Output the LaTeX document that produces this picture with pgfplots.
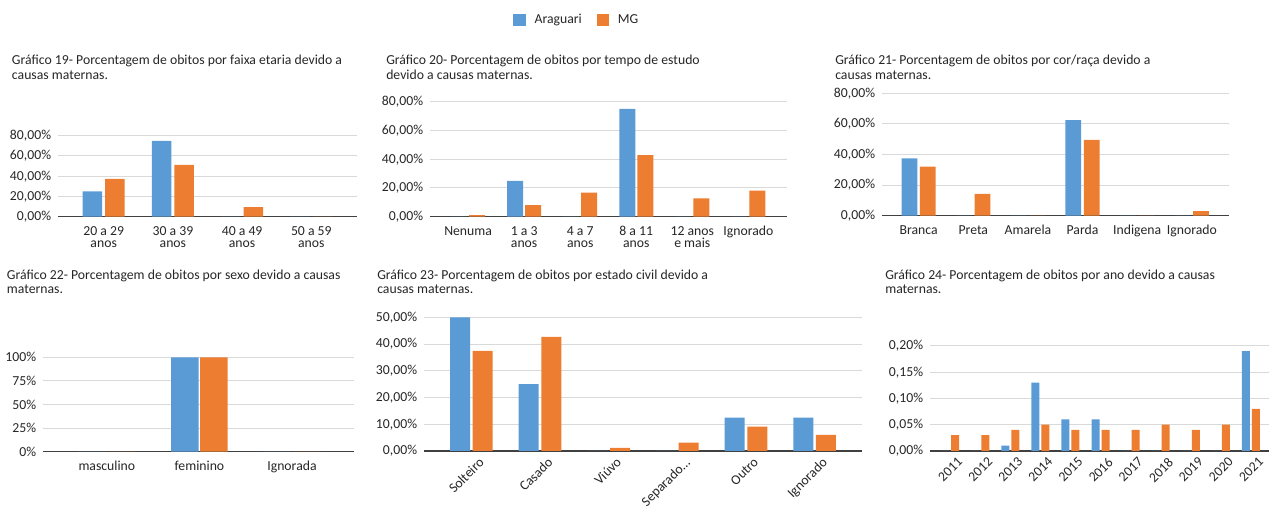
\documentclass[border=0pt]{standalone}
\usepackage{fontspec}
\setmainfont{Carlito}
\usepackage{pgfplots}
\pgfplotsset{compat=1.18}

\definecolor{cA}{HTML}{5B9BD5}
\definecolor{cM}{HTML}{ED7D31}
\definecolor{gridc}{HTML}{D9D9D9}
\definecolor{txt}{HTML}{262626}
\newcommand\tkf{\fontsize{10.3}{9.6}\selectfont}
\newcommand\ttf{\fontsize{10.3}{11}\selectfont}
% fixed first-line height so all category labels share one baseline
\newcommand\fl{\rule{0pt}{7pt}}

\pgfplotsset{
  panel/.style={
    scale only axis, anchor=south west, ybar, ymin=0, clip=false,
    axis x line*=bottom, axis y line*=left,
    y axis line style={draw=none},
    x axis line style={-, draw=black!75, line width=0.9pt},
    ymajorgrids, grid style={draw=gridc, line width=0.75pt},
    major tick length=0pt, tick style={draw=none},
    yticklabel style={font=\tkf, text=txt, inner sep=0pt, xshift=-5pt},
    xticklabel style={font=\tkf, text=txt, inner sep=0pt, align=center},
  },
  flatx/.style={xticklabel style={yshift=-6.6pt}},
  rotx/.style={xticklabel style={xshift=5pt, yshift=-4pt, rotate=45, anchor=north east}},
  a/.style={fill=cA, draw=none},
  m/.style={fill=cM, draw=none},
  sq/.style={legend image code/.code={\fill[##1] (0pt,-4.5pt) rectangle (9.5pt,4.5pt); \path (14pt,0pt);}},
  pct/.style={yticklabels={{0,00\%},{20,00\%},{40,00\%},{60,00\%},{80,00\%}}, ytick={0,20,40,60,80}, ymax=80},
}

\newcommand\ttl[4]{%
  \node[anchor=base west, inner sep=0pt, font=\ttf, text=txt] at (#1,#2) {#3};
  \node[anchor=base west, inner sep=0pt, font=\ttf, text=txt] at (#1,{#2-10.7pt}) {#4};}

\begin{document}
\begin{tikzpicture}
\useasboundingbox (0,0) rectangle (951.75pt,381.75pt);

% titles
\ttl{8.8pt}{333pt}{Gráfico 19- Porcentagem de obitos por faixa etaria devido a}{causas maternas.}
\ttl{289.5pt}{333pt}{Gráfico 20- Porcentagem de obitos por tempo de estudo}{devido a causas maternas.}
\ttl{626.25pt}{333pt}{Gráfico 21- Porcentagem de obitos por cor/raça devido a}{causas maternas.}
\ttl{5pt}{172.3pt}{Gráfico 22- Porcentagem de obitos por sexo devido a causas}{maternas.}
\ttl{282.75pt}{172.3pt}{Gráfico 23- Porcentagem de obitos por estado civil devido a}{causas maternas.}
\ttl{663.75pt}{172.3pt}{Gráfico 24- Porcentagem de obitos por ano devido a causas}{maternas.}

% 19: faixa etaria
\begin{axis}[panel, flatx, pct, at={(43.5pt,219.2pt)}, width=224.25pt, height=60.75pt,
  xmin=-0.66, xmax=3.66, xtick={0,1,2,3},
  xticklabels={{\fl 20 a 29\\anos},{\fl 30 a 39\\anos},{\fl 40 a 49\\anos},{\fl 50 a 59\\anos}},
  bar width=14.6pt]
\addplot[a, bar shift=-8.4pt] coordinates {(0,25) (1,75) (2,0) (3,0)};
\addplot[m, bar shift=8.4pt] coordinates {(0,37.5) (1,51.3) (2,9.6) (3,0)};
\end{axis}

% 20: tempo de estudo (carries the legend)
\begin{axis}[panel, flatx, pct, at={(322.5pt,219.2pt)}, width=267.75pt, height=86.25pt,
  xmin=-0.68, xmax=5.69, xtick={0,1,2,3,4,5},
  xticklabels={{\fl Nenuma},{\fl 1 a 3\\anos},{\fl 4 a 7\\anos},{\fl 8 a 11\\anos},{\fl 12 anos\\e mais},{\fl Ignorado}},
  bar width=12pt, legend columns=2,
  legend style={at={(0.412,1.71)}, anchor=center, draw=none, fill=none, font=\tkf, text=txt,
    /tikz/every even column/.append style={column sep=9pt}}]
\addplot[a, sq, bar shift=-6.75pt] coordinates {(0,0) (1,25) (2,0) (3,75) (4,0) (5,0)};
\addplot[m, sq, bar shift=6.75pt] coordinates {(0,1.1) (1,8.1) (2,16.7) (3,42.9) (4,12.8) (5,18.1)};
\legend{Araguari,MG}
\end{axis}

% 21: cor/raca
\begin{axis}[panel, flatx, pct, at={(661.5pt,220pt)}, width=260.25pt, height=91.8pt,
  xmin=-0.67, xmax=5.68, xtick={0,1,2,3,4,5},
  xticklabels={{\fl Branca},{\fl Preta},{\fl Amarela},{\fl Parda},{\fl Indigena},{\fl Ignorado}},
  bar width=11.8pt]
\addplot[a, bar shift=-6.9pt] coordinates {(0,37.5) (1,0) (2,0) (3,62.5) (4,0) (5,0)};
\addplot[m, bar shift=6.9pt] coordinates {(0,32) (1,14.2) (2,0) (3,49.5) (4,0) (5,3)};
\end{axis}

% 22: sexo
\begin{axis}[panel, flatx, at={(32.25pt,43pt)}, width=233.25pt, height=70.8pt,
  xmin=-0.69, xmax=2.67, xtick={0,1,2}, xticklabels={{\fl masculino},{\fl feminino},{\fl Ignorada}},
  ymax=100, ytick={0,25,50,75,100}, yticklabels={0\%,25\%,50\%,75\%,100\%},
  bar width=20.6pt]
\addplot[a, bar shift=-10.9pt] coordinates {(0,0) (1,100) (2,0)};
\addplot[m, bar shift=10.9pt] coordinates {(0,0) (1,100) (2,0)};
\end{axis}

% 23: estado civil
\begin{axis}[panel, rotx, at={(318pt,43.5pt)}, width=328.5pt, height=100.3pt,
  xmin=-0.69, xmax=5.69, xtick={0,1,2,3,4,5},
  xticklabels={Solteiro,Casado,Viúvo,{Separado\ldots},Outro,Ignorado},
  ymax=50, ytick={0,10,20,30,40,50},
  yticklabels={{0,00\%},{10,00\%},{20,00\%},{30,00\%},{40,00\%},{50,00\%}},
  bar width=15pt]
\addplot[a, bar shift=-8.5pt] coordinates {(0,50) (1,25) (2,0) (3,0) (4,12.5) (5,12.5)};
\addplot[m, bar shift=8.5pt] coordinates {(0,37.4) (1,42.7) (2,1.2) (3,3.1) (4,9.1) (5,6)};
\end{axis}

% 24: ano
\begin{axis}[panel, rotx, at={(697.5pt,43.5pt)}, width=254.25pt, height=78.75pt,
  xmin=-0.67, xmax=10.6, xtick={0,1,2,3,4,5,6,7,8,9,10},
  xticklabels={2011,2012,2013,2014,2015,2016,2017,2018,2019,2020,2021},
  ymax=0.2, ytick={0,0.05,0.1,0.15,0.2},
  yticklabels={{0,00\%},{0,05\%},{0,10\%},{0,15\%},{0,20\%}},
  bar width=6pt]
\addplot[a, bar shift=-3.75pt] coordinates {(0,0) (1,0) (2,0.01) (3,0.13) (4,0.06) (5,0.06) (6,0) (7,0) (8,0) (9,0) (10,0.19)};
\addplot[m, bar shift=3.75pt] coordinates {(0,0.03) (1,0.03) (2,0.04) (3,0.05) (4,0.04) (5,0.04) (6,0.04) (7,0.05) (8,0.04) (9,0.05) (10,0.08)};
\end{axis}
\end{tikzpicture}
\end{document}
